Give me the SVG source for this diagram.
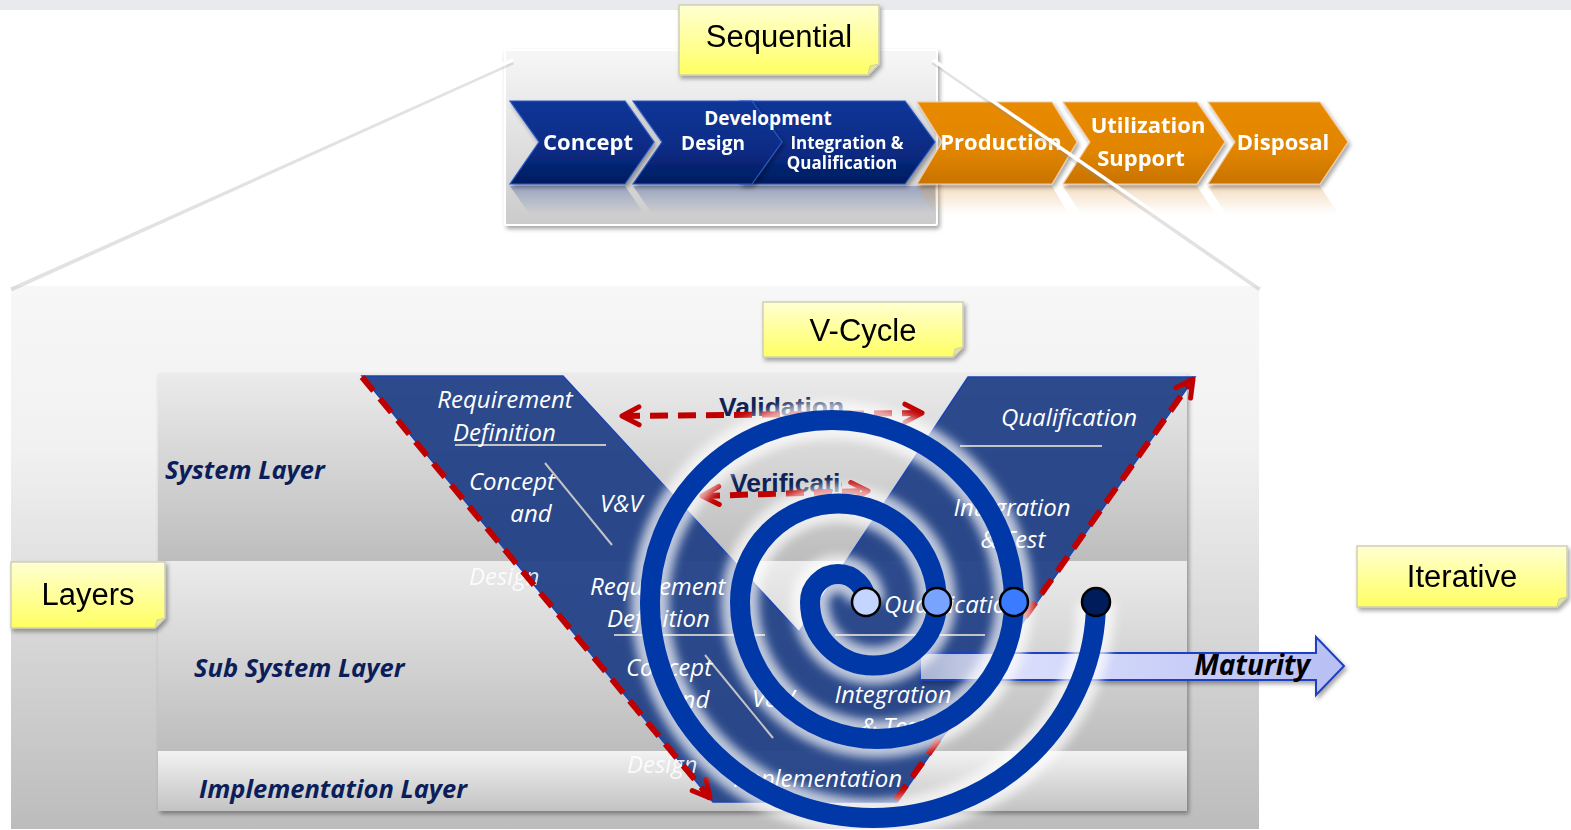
<svg xmlns="http://www.w3.org/2000/svg" width="1571" height="830" viewBox="0 0 1571 830">
<style>
.note{fill:url(#gNote);stroke:#cfcfb4;stroke-width:1.5}
.fold{fill:#e4e49a;stroke:#cfcfb4;stroke-width:1}
.nt{font-family:"Liberation Sans",Arial,sans-serif;font-size:31px;fill:#000;text-anchor:middle}
.chb{fill:url(#gBlue);stroke:#2a58c8;stroke-width:1.2}
.cho{fill:url(#gOrange);stroke:#f3c9a0;stroke-width:1.2}
.ct{font-family:"Open Sans",sans-serif;font-weight:bold;fill:#fff;text-anchor:middle}
.lay{font-family:"Open Sans",sans-serif;font-weight:bold;font-style:italic;font-size:25.5px;fill:#0c1e5a}
.w{font-family:"Open Sans",sans-serif;font-style:italic;font-size:24px;fill:#fff}
.gl{stroke:#c4c4c4;stroke-width:2;fill:none}
.vv{font-family:"Liberation Sans",Arial,sans-serif;font-weight:bold;font-size:26.5px;fill:#0e2257}
.red{stroke:#c00000;stroke-width:6;fill:none;stroke-dasharray:18 10}
.zl{stroke:#fff;stroke-width:3.5;fill:none}
.zs{stroke:#8a8a8a;stroke-width:5;fill:none;opacity:.25}
.dot{stroke:#000;stroke-width:2.5}
</style>
<defs>
<linearGradient id="gPanel" x1="0" y1="0" x2="0" y2="1"><stop offset="0" stop-color="#f7f7f7"/><stop offset="0.3" stop-color="#f1f1f1"/><stop offset="1" stop-color="#bcbcbc"/></linearGradient>
<linearGradient id="gUpper" x1="0" y1="0" x2="0" y2="1"><stop offset="0" stop-color="#f7f7f7"/><stop offset="1" stop-color="#cbcbcb"/></linearGradient>
<linearGradient id="gBand" x1="0" y1="0" x2="0" y2="1"><stop offset="0" stop-color="#ebebeb"/><stop offset="1" stop-color="#bdbdbd"/></linearGradient>
<linearGradient id="gImpl" x1="0" y1="0" x2="0" y2="1"><stop offset="0" stop-color="#f2f2f2"/><stop offset="1" stop-color="#c3c3c3"/></linearGradient>
<linearGradient id="gNote" x1="0" y1="0" x2="0" y2="1"><stop offset="0" stop-color="#ffffd2"/><stop offset="1" stop-color="#ffff62"/></linearGradient>
<linearGradient id="gBlue" x1="0" y1="0" x2="0" y2="1"><stop offset="0" stop-color="#0d3698"/><stop offset="0.6" stop-color="#082b84"/><stop offset="1" stop-color="#041c5e"/></linearGradient>
<linearGradient id="gOrange" x1="0" y1="0" x2="0" y2="1"><stop offset="0" stop-color="#e98b00"/><stop offset="0.6" stop-color="#e18500"/><stop offset="1" stop-color="#c87300"/></linearGradient>
<linearGradient id="gReflB" gradientUnits="userSpaceOnUse" x1="0" y1="186" x2="0" y2="214"><stop offset="0" stop-color="#2a4a9a" stop-opacity=".35"/><stop offset="1" stop-color="#2a4a9a" stop-opacity="0"/></linearGradient>
<linearGradient id="gReflO" gradientUnits="userSpaceOnUse" x1="0" y1="186" x2="0" y2="214"><stop offset="0" stop-color="#e0a050" stop-opacity=".35"/><stop offset="1" stop-color="#e0a050" stop-opacity="0"/></linearGradient>
<linearGradient id="gArrow" x1="0" y1="0" x2="1" y2="0"><stop offset="0" stop-color="#eef0ff" stop-opacity=".6"/><stop offset="0.25" stop-color="#d9ddfb"/><stop offset="1" stop-color="#b7bff4"/></linearGradient>
<filter id="sh" x="-10%" y="-10%" width="125%" height="130%"><feDropShadow dx="2" dy="3" stdDeviation="2" flood-color="#000" flood-opacity=".35"/></filter>
<filter id="blur" x="-20%" y="-20%" width="140%" height="140%"><feGaussianBlur stdDeviation="5"/></filter>
<clipPath id="clipVer"><rect x="700" y="460" width="142" height="50"/></clipPath>
<marker id="rh" viewBox="0 0 24 24" refX="20" refY="12" markerWidth="24" markerHeight="24" markerUnits="userSpaceOnUse" orient="auto-start-reverse"><path d="M3,3 L20,12 L3,21" fill="none" stroke="#c00000" stroke-width="5" stroke-linecap="round" stroke-linejoin="round" stroke-dasharray="none"/></marker>
</defs>

<rect x="0" y="0" width="1571" height="830" fill="#ffffff"/>
<rect x="0" y="0" width="1571" height="10" fill="#e9eaee"/>

<g id="sequential-panel">
<rect x="505" y="50" width="432" height="175" rx="2" fill="url(#gUpper)" stroke="#ffffff" stroke-width="2" filter="url(#sh)"/>
</g>

<g id="reflections">
<polygon points="510,186 625,186 654,228 625,269 510,269 539,228" fill="url(#gReflB)"/>
<polygon points="633,186 935,186 935,228 905,269 633,269 662,228" fill="url(#gReflB)"/>
<polygon points="917,186 1052,186 1077,228 1052,269 917,269 942,228" fill="url(#gReflO)"/>
<polygon points="1063,186 1197,186 1225,228 1197,269 1063,269 1090,228" fill="url(#gReflO)"/>
<polygon points="1208,186 1320,186 1348,228 1320,269 1208,269 1235,228" fill="url(#gReflO)"/>
</g>

<g id="chev-concept" filter="url(#sh)">
<polygon class="chb" points="510,101 625,101 654,142 625,184 510,184 539,142"/>
<text class="ct" x="588" y="150" font-size="22">Concept</text>
</g>
<g id="chev-integration" filter="url(#sh)">
<polygon class="chb" points="740,101 905,101 935,142 905,184 740,184 769,142"/>
<text class="ct" x="847" y="149" font-size="17">Integration &amp;</text>
<text class="ct" x="842" y="169" font-size="17">Qualification</text>
</g>
<g id="chev-design" filter="url(#sh)">
<polygon class="chb" points="633,101 752,101 782,142 752,184 633,184 662,142"/>
<text class="ct" x="713" y="150" font-size="19">Design</text>
</g>
<g id="label-development">
<text class="ct" x="768" y="125" font-size="19">Development</text>
</g>
<g id="chev-production" filter="url(#sh)">
<polygon class="cho" points="917,102 1052,102 1077,142 1052,184 917,184 942,142"/>
<text class="ct" x="1001" y="150" font-size="22">Production</text>
</g>
<g id="chev-utilization" filter="url(#sh)">
<polygon class="cho" points="1063,102 1197,102 1225,142 1197,184 1063,184 1090,142"/>
<text class="ct" x="1148" y="133" font-size="22">Utilization</text>
<text class="ct" x="1141" y="166" font-size="22">Support</text>
</g>
<g id="chev-disposal" filter="url(#sh)">
<polygon class="cho" points="1208,102 1320,102 1348,142 1320,184 1208,184 1235,142"/>
<text class="ct" x="1283" y="150" font-size="22">Disposal</text>
</g>

<g id="lower-panel">
<rect x="10" y="285" width="1250" height="545" fill="url(#gPanel)" stroke="#ffffff" stroke-width="2"/>
</g>

<g id="connectors">
<line class="zs" x1="513" y1="62" x2="11" y2="289"/>
<line class="zl" x1="513" y1="60" x2="10" y2="286"/>
<line class="zs" x1="933" y1="62" x2="1260" y2="289"/>
<line class="zl" x1="933" y1="60" x2="1261" y2="286"/>
</g>

<g id="layers" filter="url(#sh)">
<rect x="158" y="373" width="1029" height="188" fill="url(#gBand)"/>
<rect x="158" y="561" width="1029" height="190" fill="url(#gBand)"/>
<rect x="158" y="751" width="1029" height="60" fill="url(#gImpl)"/>
</g>
<g id="layer-labels">
<text class="lay" x="165" y="479">System Layer</text>
<text class="lay" x="194" y="677">Sub System Layer</text>
<text class="lay" x="199" y="798">Implementation Layer</text>
</g>

<g id="v-shape">
<polygon points="362,376 563,376 799,632 968,377 1195,377 897,802 713,802" fill="#1e3e84" fill-opacity=".93" stroke="#1a42b4" stroke-width="1.5"/>
<line class="gl" x1="455" y1="445" x2="606" y2="445"/>
<line class="gl" x1="545" y1="463" x2="612" y2="545"/>
<line class="gl" x1="960" y1="446" x2="1102" y2="446"/>
<line class="gl" x1="614" y1="635" x2="765" y2="635"/>
<line class="gl" x1="705" y1="655" x2="773" y2="738"/>
<line class="gl" x1="835" y1="635" x2="985" y2="635"/>
</g>
<g id="v-texts">
<text class="w" x="505" y="408" text-anchor="middle">Requirement</text>
<text class="w" x="453" y="441">Definition</text>
<text class="w" x="512" y="490" text-anchor="middle">Concept</text>
<text class="w" x="531" y="522" text-anchor="middle">and</text>
<text class="w" x="469" y="585" opacity=".85">Design</text>
<text class="w" x="600" y="512">V&amp;V</text>
<text class="w" x="1069" y="426" text-anchor="middle">Qualification</text>
<text class="w" x="1012" y="516" text-anchor="middle">Integration</text>
<text class="w" x="1013" y="548" text-anchor="middle">&amp; Test</text>
<text class="w" x="590" y="595">Requirement</text>
<text class="w" x="607" y="627">Definition</text>
<text class="w" x="626" y="676">Concept</text>
<text class="w" x="668" y="708">and</text>
<text class="w" x="752" y="707">V&amp;V</text>
<text class="w" x="884" y="613">Qualification</text>
<text class="w" x="893" y="703" text-anchor="middle">Integration</text>
<text class="w" x="893" y="735" text-anchor="middle">&amp; Test</text>
<text class="w" x="627" y="773" opacity=".85">Design</text>
<text class="w" x="902" y="787" text-anchor="end">Implementation</text>
</g>

<g id="vv-labels">
<text class="vv" x="719" y="416">Validation</text>
<text class="vv" x="730" y="492" clip-path="url(#clipVer)">Verification</text>
</g>

<g id="red-arrows">
<line class="red" x1="622" y1="416" x2="922" y2="413" marker-start="url(#rh)" marker-end="url(#rh)"/>
<line class="red" x1="702" y1="496" x2="868" y2="491" marker-start="url(#rh)" marker-end="url(#rh)"/>
<line class="red" x1="362" y1="377" x2="710" y2="798" marker-end="url(#rh)"/>
<line class="red" x1="896" y1="800" x2="1193" y2="379" marker-end="url(#rh)"/>
</g>

<g id="maturity">
<polygon points="920,653 1316,653 1316,637 1344,666 1316,695 1316,680 920,680" fill="url(#gArrow)" stroke="#1f3fbf" stroke-width="2" filter="url(#sh)"/>
<text x="1310" y="675" text-anchor="end" font-family="Open Sans, sans-serif" font-weight="bold" font-style="italic" font-size="28" fill="#000">Maturity</text>
</g>

<g id="spiral">
<path d="M866,602 A28,28 0 0 0 810,602 A63.5,63.5 0 0 0 937,602 A98.5,98.5 0 0 0 740,602 A137,137 0 0 0 1014,602 A182,182 0 0 0 650,602 A223,216 0 0 0 1096,602" fill="none" stroke="#ffffff" stroke-width="38" stroke-opacity=".7" filter="url(#blur)"/>
<path d="M866,602 A28,28 0 0 0 810,602 A63.5,63.5 0 0 0 937,602 A98.5,98.5 0 0 0 740,602 A137,137 0 0 0 1014,602 A182,182 0 0 0 650,602 A223,216 0 0 0 1096,602" fill="none" stroke="#0038a8" stroke-width="20" stroke-linecap="round"/>
</g>
<g id="dot1"><circle class="dot" cx="866" cy="602" r="14" fill="#c4d6ff"/></g>
<g id="dot2"><circle class="dot" cx="937" cy="602" r="14" fill="#78a3ff"/></g>
<g id="dot3"><circle class="dot" cx="1014" cy="602" r="14" fill="#3a7bff"/></g>
<g id="dot4"><circle class="dot" cx="1096" cy="602" r="14" fill="#001c5a"/></g>

<g id="note-sequential" filter="url(#sh)">
<polygon class="note" points="679,5 879,5 879,64 868,75 679,75"/>
<polygon class="fold" points="879,64 868,75 870,66"/>
<text class="nt" x="779" y="47">Sequential</text>
</g>
<g id="note-vcycle" filter="url(#sh)">
<polygon class="note" points="763,302 963,302 963,347 953,357 763,357"/>
<polygon class="fold" points="963,347 953,357 955,349"/>
<text class="nt" x="863" y="341">V-Cycle</text>
</g>
<g id="note-layers" filter="url(#sh)">
<polygon class="note" points="11,562 165,562 165,618 155,628 11,628"/>
<polygon class="fold" points="165,618 155,628 157,620"/>
<text class="nt" x="88" y="605">Layers</text>
</g>
<g id="note-iterative" filter="url(#sh)">
<polygon class="note" points="1357,546 1567,546 1567,597 1557,607 1357,607"/>
<polygon class="fold" points="1567,597 1557,607 1559,599"/>
<text class="nt" x="1462" y="587">Iterative</text>
</g>
</svg>
